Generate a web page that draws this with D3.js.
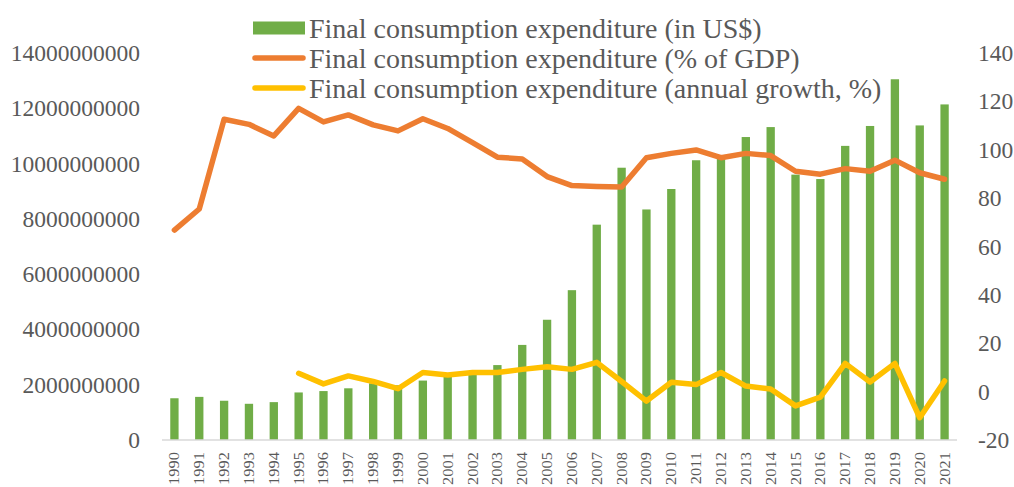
<!DOCTYPE html>
<html>
<head>
<meta charset="utf-8">
<script src="https://cdn.jsdelivr.net/npm/d3@7"></script>
<style>
html,body{margin:0;padding:0;background:#fff;}
svg{display:block;}
</style>
</head>
<body>
<svg id="chart" width="1014" height="487"></svg>
<script>
const years = ["1990","1991","1992","1993","1994","1995","1996","1997","1998","1999","2000","2001","2002","2003","2004","2005","2006","2007","2008","2009","2010","2011","2012","2013","2014","2015","2016","2017","2018","2019","2020","2021"];
const expenditureUSD = [1.51e9,1.56e9,1.42e9,1.31e9,1.37e9,1.72e9,1.77e9,1.87e9,2.05e9,1.98e9,2.15e9,2.29e9,2.38e9,2.71e9,3.44e9,4.35e9,5.42e9,7.79e9,9.85e9,8.34e9,9.08e9,10.12e9,10.25e9,10.96e9,11.32e9,9.6e9,9.44e9,10.64e9,11.36e9,13.05e9,11.38e9,12.14e9];
const pctGDP = [66.8,75.5,112.6,110.5,105.7,117.1,111.5,114.4,110.3,107.8,112.8,108.8,102.9,96.9,96.2,88.9,85.2,84.8,84.6,96.7,98.5,99.9,96.7,98.5,97.6,91.1,89.9,92.2,91.1,95.7,90.5,87.8];
const growthYears = ["1995","1996","1997","1998","1999","2000","2001","2002","2003","2004","2005","2006","2007","2008","2009","2010","2011","2012","2013","2014","2015","2016","2017","2018","2019","2020","2021"];
const growthPct = [7.6,3.2,6.5,4.2,1.2,7.9,6.9,7.9,7.9,9.2,10.3,9.2,12.1,4.2,-3.9,3.9,2.9,7.9,2.3,1.1,-5.9,-2.3,11.7,4.0,11.7,-10.8,4.4];
const leftTicks = [0,2e9,4e9,6e9,8e9,10e9,12e9,14e9];
const rightTicks = [-20,0,20,40,60,80,100,120,140];
const seriesNames = ["Final consumption expenditure (in US$)","Final consumption expenditure (% of GDP)","Final consumption expenditure (annual growth, %)"];
const colors = {bar:"#70AD47", gdp:"#ED7D31", growth:"#FFC000", text:"#595959", axis:"#D9D9D9"};

const svg = d3.select("#chart");
const font = "'Liberation Serif','Times New Roman',serif";
const x = d3.scaleBand().domain(years).range([162,957]).paddingInner(0.665).paddingOuter(0.3325);
const yL = d3.scaleLinear().domain([0,14e9]).range([440,53]);
const yR = d3.scaleLinear().domain([-20,140]).range([440,53]);
const fmt = d => String(d);

// left axis
const gL = svg.append("g").attr("transform","translate(140,0)")
  .call(d3.axisLeft(yL).tickValues(leftTicks).tickFormat(fmt).tickSize(0).tickPadding(0));
gL.select(".domain").remove();
gL.selectAll("text").attr("fill",colors.text).style("font-family",font).style("font-size","23.5px");

// right axis
const gR = svg.append("g").attr("transform","translate(978,0)")
  .call(d3.axisRight(yR).tickValues(rightTicks).tickFormat(fmt).tickSize(0).tickPadding(0));
gR.select(".domain").remove();
gR.selectAll("text").attr("fill",colors.text).style("font-family",font).style("font-size","23.5px");

// bars
svg.append("g").selectAll("rect").data(years).join("rect")
  .attr("x",d=>x(d)).attr("width",x.bandwidth())
  .attr("y",(d,i)=>yL(expenditureUSD[i]))
  .attr("height",(d,i)=>yL(0)-yL(expenditureUSD[i]))
  .attr("fill",colors.bar);

// x axis line
svg.append("line").attr("x1",162).attr("x2",957).attr("y1",yL(0)).attr("y2",yL(0))
  .attr("stroke",colors.axis).attr("stroke-width",1.5);

// x labels
const cx = d => x(d)+x.bandwidth()/2;
svg.append("g").selectAll("text").data(years).join("text")
  .attr("transform",d=>`translate(${cx(d)+5},452) rotate(-90) scale(1.1,1)`)
  .attr("text-anchor","end")
  .attr("fill",colors.text).style("font-family",font).style("font-size","15px")
  .text(d=>d);

// lines
const lineGDP = d3.line().x((d,i)=>cx(years[i])).y(d=>yR(d));
svg.append("path").attr("d",lineGDP(pctGDP)).attr("fill","none")
  .attr("stroke",colors.gdp).attr("stroke-width",5.5).attr("stroke-linejoin","round").attr("stroke-linecap","round");
const lineGrowth = d3.line().x((d,i)=>cx(growthYears[i])).y(d=>yR(d));
svg.append("path").attr("d",lineGrowth(growthPct)).attr("fill","none")
  .attr("stroke",colors.growth).attr("stroke-width",5.5).attr("stroke-linejoin","round").attr("stroke-linecap","round");

// legend
const leg = svg.append("g");
const rowsY = [28,58,88];
leg.append("rect").attr("x",253).attr("y",rowsY[0]-6.5).attr("width",52).attr("height",13).attr("fill",colors.bar);
leg.append("line").attr("x1",255).attr("x2",303).attr("y1",rowsY[1]).attr("y2",rowsY[1])
  .attr("stroke",colors.gdp).attr("stroke-width",5.5).attr("stroke-linecap","round");
leg.append("line").attr("x1",255).attr("x2",303).attr("y1",rowsY[2]).attr("y2",rowsY[2])
  .attr("stroke",colors.growth).attr("stroke-width",5.5).attr("stroke-linecap","round");
leg.selectAll("text").data(seriesNames).join("text")
  .attr("x",309).attr("y",(d,i)=>rowsY[i]).attr("dy","0.35em")
  .attr("fill",colors.text).style("font-family",font).style("font-size","28px")
  .text(d=>d);
</script>
</body>
</html>
